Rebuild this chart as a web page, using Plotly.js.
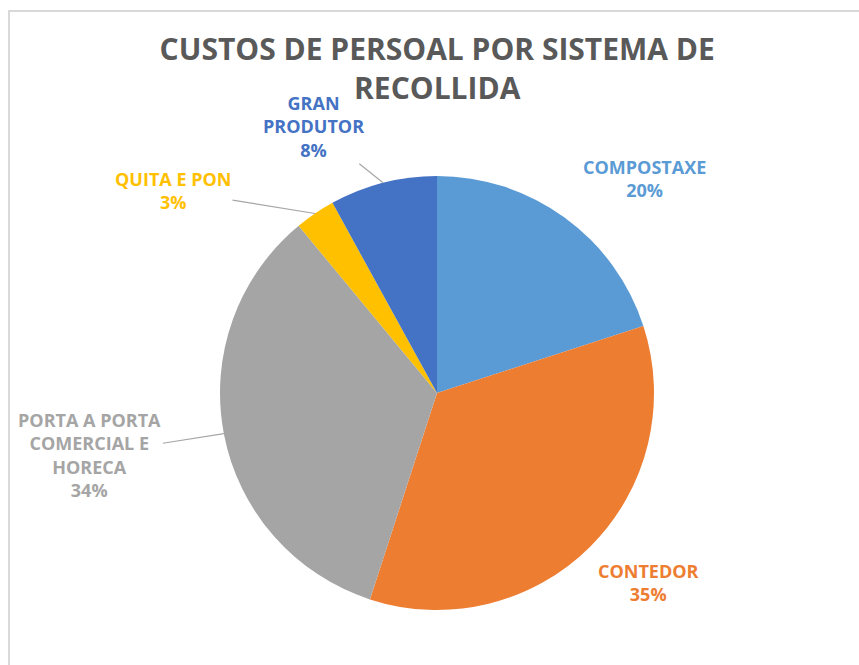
<!DOCTYPE html>
<html>
<head>
<meta charset="utf-8">
<script src="https://cdn.plot.ly/plotly-3.0.1.min.js"></script>
<style>
  body { margin: 0; background: #fff; overflow: hidden; }
  #frame { position: absolute; left: 8px; top: 10px; width: 900px; height: 700px; border: 2px solid #d9d9d9; }
  #plot { position: absolute; left: 0; top: 0; width: 859px; height: 665px; }
</style>
</head>
<body>
<div id="frame"></div>
<div id="plot"></div>
<script>
var labels = ["COMPOSTAXE", "CONTEDOR", "PORTA A PORTA<br>COMERCIAL E<br>HORECA", "QUITA E PON", "GRAN<br>PRODUTOR"];
var values = [20, 35, 34, 3, 8];
var colors = ["#5b9bd5", "#ed7d31", "#a5a5a5", "#ffc000", "#4472c4"];

// label placement (pixel offsets from slice edge), leader line on/off
var labelOffsets = [[80, -39], [58, 36], [-134, 21], [-142, -23], [-70, -56]];
var showLeader = [false, false, true, true, true];

var W = 859, H = 665;
var cx = 437, cy = 393, r = 217;

var trace1 = {
    type: "pie",
    labels: labels,
    values: values,
    sort: false,
    direction: "clockwise",
    rotation: 0,
    marker: { colors: colors, line: { width: 0 } },
    textinfo: "none",
    hoverinfo: "label+percent",
    domain: { x: [(cx - r) / W, (cx + r) / W], y: [(H - cy - r) / H, (H - cy + r) / H] },
    automargin: false
}

// annotations at each slice's mid angle
var total = values.reduce(function (a, b) { return a + b; }, 0);
var annotations = [];
var cum = 0;
for (var i = 0; i < values.length; i++) {
    var mid = (cum + values[i] / 2) / total * 2 * Math.PI;
    cum += values[i];
    var px = cx + r * Math.sin(mid);
    var py = cy - r * Math.cos(mid);
    annotations.push({
        x: px / W,
        y: (H - py) / H,
        xref: "paper",
        yref: "paper",
        text: "<b>" + labels[i] + "<br>" + Math.round(values[i] / total * 100) + "%</b>",
        showarrow: true,
        arrowhead: 0,
        arrowwidth: 1.2,
        arrowcolor: showLeader[i] ? "#a6a6a6" : "rgba(0,0,0,0)",
        ax: labelOffsets[i][0],
        ay: labelOffsets[i][1],
        font: { family: "Open Sans, sans-serif", size: 18, color: colors[i] },
        align: "center"
    });
}

var layout = {
    width: W,
    height: H,
    margin: { l: 0, r: 0, t: 0, b: 0 },
    paper_bgcolor: "rgba(0,0,0,0)",
    showlegend: false,
    annotations: annotations,
    title: {
        text: "<b>CUSTOS DE PERSOAL POR SISTEMA DE<br>RECOLLIDA</b>",
        font: { family: "Open Sans, sans-serif", size: 30, color: "#595959" },
        x: 0.509,
        xanchor: "center",
        y: 0.91,
        yanchor: "top"
    }
}

Plotly.newPlot("plot", [trace1], layout, { displayModeBar: false })
</script>
</body>
</html>
